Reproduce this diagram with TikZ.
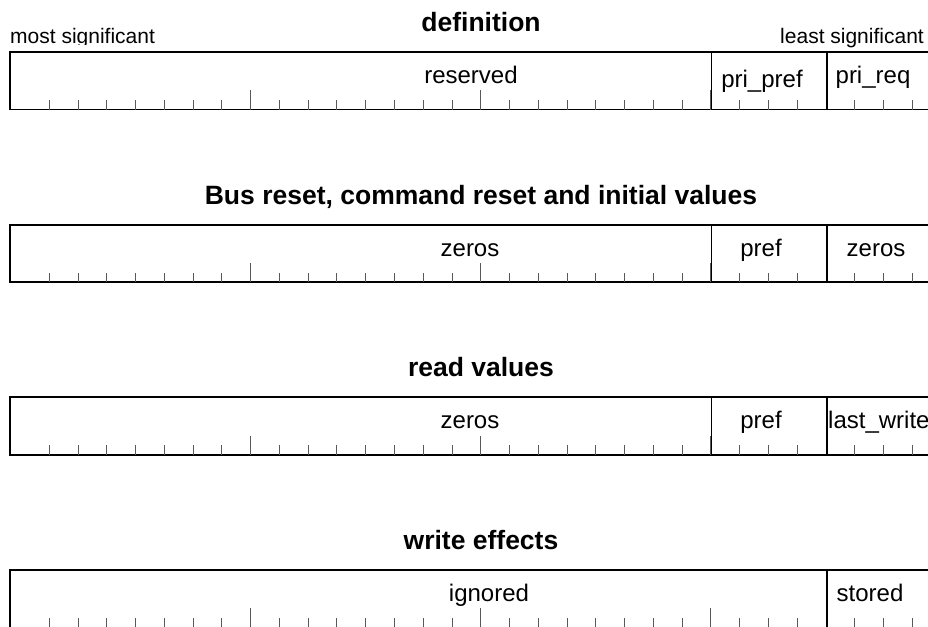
\documentclass[tikz,border=0pt]{standalone}
\usepackage{fontspec}
\setmainfont{Liberation Sans}
\usetikzlibrary{positioning}

\tikzset{
  regbox/.style={line width=1.9pt},
  divider/.style={line width=1.9pt},
  bittick/.style={line width=1pt, black!65},
  title/.style={font=\bfseries\fontsize{26.5}{30}\selectfont, anchor=base, inner sep=0pt},
  field/.style={font=\fontsize{24}{28}\selectfont, anchor=base, inner sep=0pt},
  corner/.style={font=\fontsize{21}{24}\selectfont, inner sep=0pt}
}

\begin{document}
\begin{tikzpicture}[x=1pt,y=-1pt]
	\useasboundingbox (0,0) rectangle (928,626);
	% the four register rows, 32 bits each
	\foreach \ytop in {52,224.7,397.4,570.1} {
		\draw[regbox] (10,\ytop) rectangle (952,\ytop+57.5);
		\foreach \k in {1,...,31} {
			\pgfmathsetmacro{\xx}{20.5+28.77*\k}
			\pgfmathsetmacro{\hh}{ifthenelse(mod(\k,8)==0,19.3,9.5)}
			\draw[bittick] (\xx,\ytop+57.5) -- (\xx,\ytop+57.5-\hh);
		}
	}
	% field borders
	\foreach \ytop in {52,224.7,397.4} {
		\draw[divider] (711.5,\ytop) -- (711.5,\ytop+57.5);
		\draw[divider] (826.6,\ytop) -- (826.6,\ytop+57.5);
	}
	\draw[divider] (826.6,570.1) -- (826.6,627.6);

	% headings
	\node[title] (def) at (481,31.5) {definition};
	\node[title] (rst) at (481,204.2) {Bus reset, command reset and initial values};
	\node[title] (rd) at (481,376.9) {read values};
	\node[title] (wr) at (481,549.6) {write effects};

	\begin{scope}
		\clip (0,0) rectangle (300,44.5);
		\node[corner, anchor=base west] (msb) at (10,43.3) {most significant};
	\end{scope}
	\node[corner, anchor=base east] (lsb) at (924,43.3) {least significant};

	% definition
	\node[field] (def-res) at (471,83.5) {reserved};
	\node[field] (def-pref) at (762,87) {pri\_pref};
	\node[field] (def-req) at (873,83.5) {pri\_req};
	% reset values
	\node[field] (rst-hi) at (470,256.2) {zeros};
	\node[field] (rst-pref) at (761,256.2) {pref};
	\node[field] (rst-lo) at (876,256.2) {zeros};
	% read values
	\node[field] (rd-hi) at (470,428.9) {zeros};
	\node[field] (rd-pref) at (761,428.9) {pref};
	\node[field, anchor=base west] (rd-lo) at (828,428.9) {last\_write};
	% write effects
	\node[field] (wr-hi) at (489,601.6) {ignored};
	\node[field] (wr-lo) at (870,601.6) {stored};
\end{tikzpicture}
\end{document}
